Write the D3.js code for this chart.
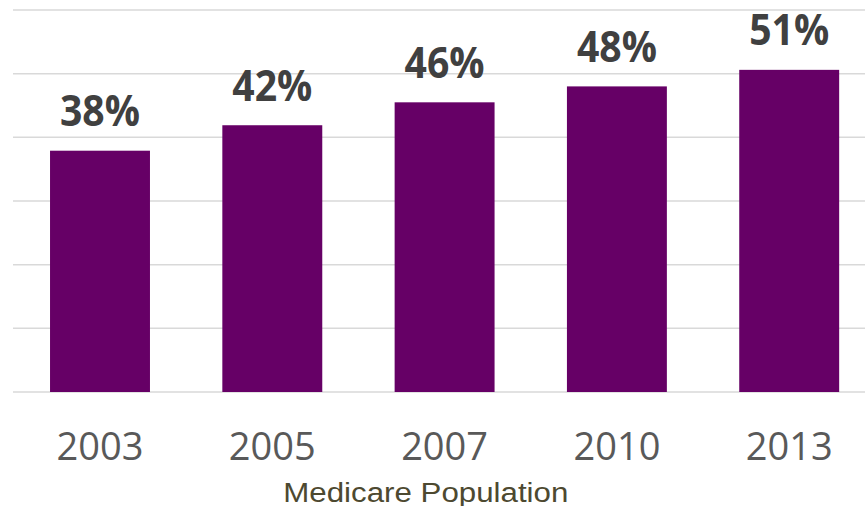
<!DOCTYPE html>
<html>
<head>
<meta charset="utf-8">
<script src="https://cdn.jsdelivr.net/npm/d3@7"></script>
<style>
  html, body { margin: 0; padding: 0; background: #ffffff; }
  svg { display: block; }
</style>
</head>
<body>
<svg id="chart" width="865" height="506"></svg>
<script>
const categories = ["2003", "2005", "2007", "2010", "2013"];
const values = [37.9, 41.9, 45.5, 48.0, 50.6];
const valueLabels = ["38%", "42%", "46%", "48%", "51%"];
const yTicks = [0, 10, 20, 30, 40, 50, 60];
const axisTitle = "Medicare Population";

const svg = d3.select("#chart");
const W = 865, H = 506;

const x = d3.scaleBand()
  .domain(categories)
  .range([13.85, 875.35])
  .paddingInner(0.42)
  .paddingOuter(0.21);

const y = d3.scaleLinear()
  .domain([0, 60])
  .range([392, 10]);

// gridlines
svg.append("g")
  .selectAll("line")
  .data(yTicks)
  .join("line")
  .attr("x1", 13)
  .attr("x2", W)
  .attr("y1", d => y(d))
  .attr("y2", d => y(d))
  .attr("stroke", "#d9d9d9")
  .attr("stroke-width", 1.5);

// bars
svg.append("g")
  .selectAll("rect")
  .data(values)
  .join("rect")
  .attr("x", (d, i) => x(categories[i]))
  .attr("width", x.bandwidth())
  .attr("y", d => y(d))
  .attr("height", d => y(0) - y(d))
  .attr("fill", "#660066");

// value labels
svg.append("g")
  .selectAll("text")
  .data(values)
  .join("text")
  .attr("x", (d, i) => x(categories[i]) + x.bandwidth() / 2)
  .attr("y", d => y(d) - 24.5)
  .attr("text-anchor", "middle")
  .attr("font-family", "'Open Sans', sans-serif")
  .attr("font-weight", "bold")
  .attr("font-size", 43)
  .attr("textLength", 80)
  .attr("lengthAdjust", "spacingAndGlyphs")
  .attr("fill", "#404040")
  .text((d, i) => valueLabels[i]);

// x axis labels
const xAxis = d3.axisBottom(x).tickSize(0).tickPadding(0);
const gx = svg.append("g")
  .attr("transform", `translate(0, ${y(0)})`)
  .call(xAxis);
gx.select(".domain").remove();
gx.selectAll("text")
  .attr("y", 68)
  .attr("dy", null)
  .attr("font-family", "'Open Sans', sans-serif")
  .attr("font-size", 38)
  .attr("fill", "#595959");

// axis title
svg.append("text")
  .attr("x", 425.8)
  .attr("y", 502)
  .attr("text-anchor", "middle")
  .attr("font-family", "'Liberation Sans', Arial, sans-serif")
  .attr("font-size", 27)
  .attr("textLength", 285)
  .attr("lengthAdjust", "spacingAndGlyphs")
  .attr("fill", "#4d4930")
  .text(axisTitle);
</script>
</body>
</html>
